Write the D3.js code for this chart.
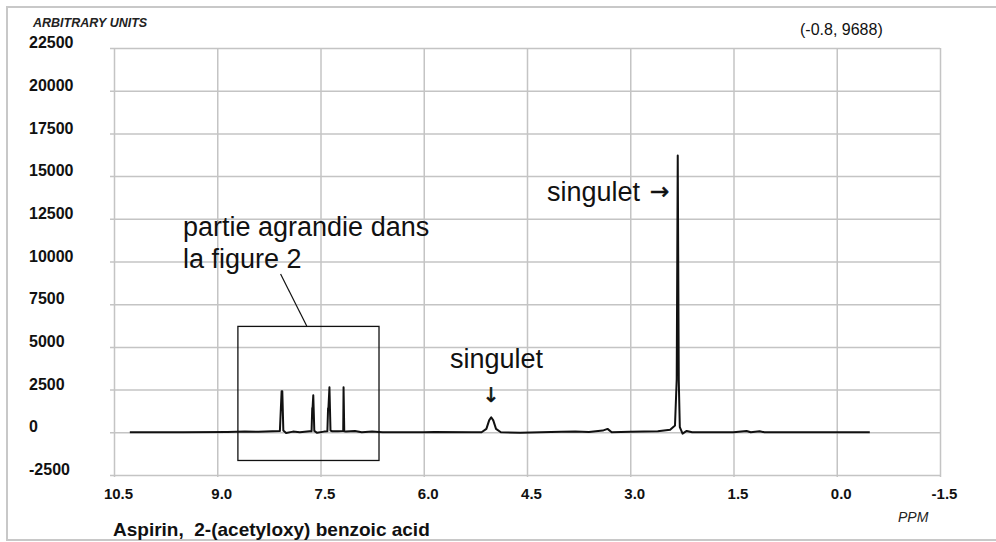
<!DOCTYPE html>
<html>
<head>
<meta charset="utf-8">
<script src="https://cdn.jsdelivr.net/npm/d3@7"></script>
<style>
  body { margin: 0; background: #fff; }
  svg { display: block; font-family: "Liberation Sans", Arial, sans-serif; }
  .grid line { stroke: #c4c4c4; stroke-width: 1.5; }
  .grid .domain { display: none; }
  .tickLbl { font-weight: bold; fill: #111; }
  .note { font-size: 27px; fill: #111; }
  .arrow { font-family: "DejaVu Sans", sans-serif; fill: #111; stroke: #111; stroke-width: 0.6; }
</style>
</head>
<body>
<div id="chart"></div>
<script>
// chemical shift (ppm) and signal (arbitrary units)
var shift = [10.27, 9.5, 8.85, 8.6, 8.4, 8.2, 8.09, 8.065, 8.055, 8.04, 8.0, 7.9, 7.8,
    7.66, 7.63, 7.62, 7.615, 7.605, 7.59, 7.55, 7.45, 7.4, 7.39, 7.385, 7.37, 7.355, 7.33,
    7.25, 7.18, 7.17, 7.165, 7.155, 7.13, 7.0, 6.9, 6.75, 6.6, 6.0, 5.85, 5.3,
    5.16, 5.09, 5.05, 5.02, 4.99, 4.95, 4.88, 4.6, 4.0, 3.8, 3.6, 3.4, 3.33, 3.27,
    3.0, 2.6, 2.42, 2.35, 2.325, 2.31, 2.295, 2.28, 2.24, 2.18, 2.1, 1.5, 1.31, 1.25,
    1.12, 1.05, -0.48];
var signal = [0, 0, 20, 40, 30, 60, 80, 2400, 2400, 100, -40, 40, 0,
    60, 60, 1420, 1420, 2170, 80, -30, 40, 60, 1410, 1410, 2640, 100, 60,
    60, 80, 80, 2640, 60, 40, 80, 0, 40, 0, 0, 20, 0,
    0, 200, 700, 880, 700, 200, 0, -20, 30, 50, 20, 100, 200, 0,
    30, 60, 150, 400, 3100, 16200, 3000, 300, -80, 80, 0, 0, 80, 0,
    60, 0, 0];

var xTicks = [10.5, 9.0, 7.5, 6.0, 4.5, 3.0, 1.5, 0.0, -1.5];
var yTicks = [-2500, 0, 2500, 5000, 7500, 10000, 12500, 15000, 17500, 20000, 22500];

// zoomed region box (ppm, units) and its callout
var zoomBox = {x0: 8.7, x1: 6.65, y0: 6200, y1: -1650};
var calloutLine = [[8.08, 9270], [7.70, 6220]];

var width = 996, height = 542;
var margin = {left: 114, right: 56, top: 48, bottom: 67};

var svg = d3.select("#chart").append("svg")
    .attr("width", width)
    .attr("height", height);

// outer frame
svg.append("rect")
    .attr("x", 7).attr("y", 7)
    .attr("width", 995).attr("height", 533)
    .style("fill", "none")
    .style("stroke", "#c8c8c8")
    .style("stroke-width", 2);

var xScale = d3.scaleLinear()
    .domain([10.5, -1.5])
    .range([margin.left, width - margin.right]);

var yScale = d3.scaleLinear()
    .domain([-2500, 22500])
    .range([height - margin.bottom, margin.top]);

var plotW = xScale(-1.5) - xScale(10.5);
var plotH = yScale(-2500) - yScale(22500);

// horizontal grid + y labels
var yAxis = svg.append("g")
    .attr("class", "grid")
    .attr("transform", "translate(" + xScale(-1.5) + ",0)")
    .call(d3.axisLeft(yScale).tickValues(yTicks).tickSizeInner(plotW + 4).tickSizeOuter(0));
yAxis.selectAll("text")
    .attr("class", "tickLbl")
    .attr("x", 29 - xScale(-1.5))
    .attr("dy", "-0.02em")
    .style("font-size", "16px")
    .style("text-anchor", "start")
    .text(d => d);

// vertical grid + x labels
var xAxis = svg.append("g")
    .attr("class", "grid")
    .attr("transform", "translate(0," + (yScale(-2500) + 2) + ")")
    .call(d3.axisBottom(xScale).tickValues(xTicks).tickSizeInner(-(plotH + 2)).tickSizeOuter(0));
xAxis.selectAll("text")
    .attr("class", "tickLbl")
    .attr("x", 4)
    .attr("y", 22)
    .attr("dy", 0)
    .style("font-size", "15px")
    .text(d => d.toFixed(1));

// axis titles
svg.append("text").attr("x", 33).attr("y", 27)
    .style("font-size", "12.5px").style("font-weight", "bold").style("font-style", "italic")
    .style("fill", "#222").text("ARBITRARY UNITS");
svg.append("text").attr("x", 898).attr("y", 522)
    .style("font-size", "14px").style("font-style", "italic")
    .style("fill", "#222").text("PPM");
svg.append("text").attr("x", 800).attr("y", 35)
    .style("font-size", "16px").style("fill", "#111").text("(-0.8, 9688)");
svg.append("text").attr("x", 113).attr("y", 536)
    .style("font-size", "19px").style("font-weight", "bold")
    .style("fill", "#111").attr("xml:space", "preserve")
    .text("Aspirin,  2-(acetyloxy) benzoic acid");

// spectrum
var points = shift.map((s, i) => ({ppm: s, v: signal[i]}));
var line = d3.line()
    .x(d => xScale(d.ppm))
    .y(d => yScale(d.v));

svg.append("path")
    .datum(points)
    .attr("d", line)
    .style("fill", "none")
    .style("stroke", "#111")
    .style("stroke-width", 2)
    .style("stroke-linejoin", "round");

// zoom box + callout
svg.append("rect")
    .attr("x", xScale(zoomBox.x0))
    .attr("y", yScale(zoomBox.y0))
    .attr("width", xScale(zoomBox.x1) - xScale(zoomBox.x0))
    .attr("height", yScale(zoomBox.y1) - yScale(zoomBox.y0))
    .style("fill", "none")
    .style("stroke", "#111")
    .style("stroke-width", 1.3);

svg.append("line")
    .attr("x1", xScale(calloutLine[0][0])).attr("y1", yScale(calloutLine[0][1]))
    .attr("x2", xScale(calloutLine[1][0])).attr("y2", yScale(calloutLine[1][1]))
    .style("stroke", "#111")
    .style("stroke-width", 1.2);

svg.append("text").attr("class", "note").attr("x", 183).attr("y", 236).text("partie agrandie dans");
svg.append("text").attr("class", "note").attr("x", 183).attr("y", 268).text("la figure 2");

svg.append("text").attr("class", "note").attr("x", 547).attr("y", 201).text("singulet");
svg.append("text").attr("class", "arrow").attr("x", 650).attr("y", 199)
    .style("font-size", "23px").text("\u2192");

svg.append("text").attr("class", "note").attr("x", 450).attr("y", 368).text("singulet");
svg.append("text").attr("class", "arrow").attr("x", xScale(5.02)).attr("y", 402)
    .style("font-size", "20px").style("text-anchor", "middle").text("\u2193");
</script>
</body>
</html>
